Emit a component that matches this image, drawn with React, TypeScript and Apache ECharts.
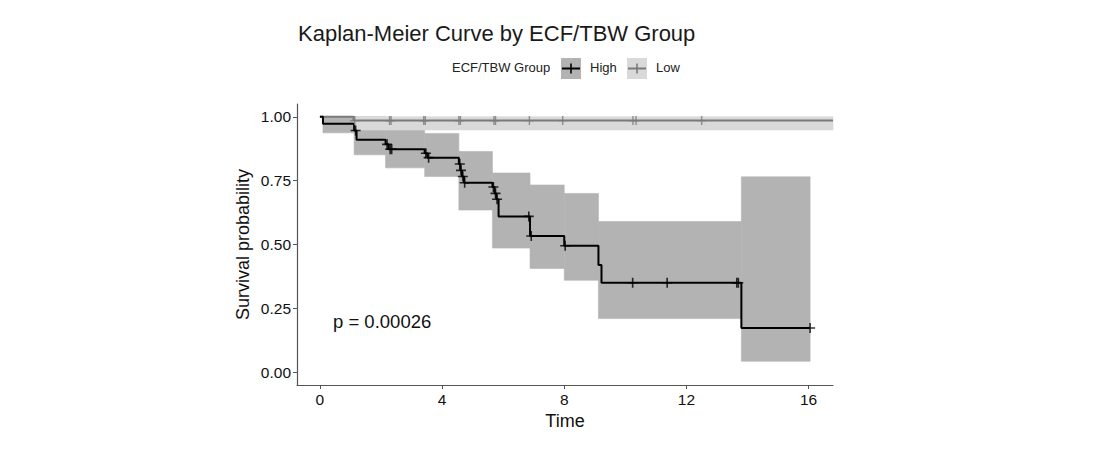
import React, { useEffect, useRef } from "react";
import * as echarts from "echarts";

// ---- Data ----
const highTimes = [0, 0.1, 1.12, 1.2, 2.15, 2.25, 3.43, 3.52, 4.55, 4.6, 4.65, 4.72, 5.65, 5.72, 5.78, 5.85, 6.88, 8.0, 9.12, 9.22, 13.8, 16.05];
const highSurv = [1, 0.973, 0.946, 0.91, 0.892, 0.873, 0.857, 0.84, 0.815, 0.79, 0.766, 0.742, 0.725, 0.7, 0.677, 0.61, 0.533, 0.495, 0.42, 0.35, 0.173, 0.173];

const highCensorTimes = [1.17, 2.2, 2.3, 2.35, 3.47, 3.56, 4.58, 4.62, 4.68, 4.74, 5.68, 5.75, 5.8, 6.84, 6.92, 8.03, 10.24, 11.37, 13.65, 13.7, 16.05];
const highCensorSurv = [0.946, 0.892, 0.873, 0.873, 0.857, 0.84, 0.815, 0.79, 0.766, 0.742, 0.725, 0.7, 0.677, 0.61, 0.533, 0.495, 0.35, 0.35, 0.35, 0.35, 0.173];

const highBandStart = [0.1, 1.12, 2.15, 3.43, 4.55, 5.65, 6.88, 8.0, 9.12, 13.8];
const highBandEnd = [1.12, 2.15, 3.43, 4.55, 5.65, 6.88, 8.0, 9.12, 13.8, 16.05];
const highBandLower = [0.937, 0.851, 0.8, 0.766, 0.635, 0.486, 0.406, 0.36, 0.21, 0.043];
const highBandUpper = [1.0, 1.0, 0.96, 0.935, 0.864, 0.78, 0.733, 0.7, 0.59, 0.765];

const lowTimes = [0, 1.1, 16.8];
const lowSurv = [1, 0.985, 0.985];
const lowCensorTimes = [1.14, 2.28, 2.33, 3.4, 3.45, 4.55, 4.6, 5.7, 5.75, 6.86, 7.95, 10.25, 10.35, 12.5];
const lowCensorSurv = [0.985, 0.985, 0.985, 0.985, 0.985, 0.985, 0.985, 0.985, 0.985, 0.985, 0.985, 0.985, 0.985, 0.985];
const lowBandStart = [1.1];
const lowBandEnd = [16.8];
const lowBandLower = [0.948];
const lowBandUpper = [1.0];

const xTicks = [0, 4, 8, 12, 16];
const yTicks = [0, 0.25, 0.5, 0.75, 1];

const FONT = "Liberation Sans, Arial, sans-serif";
const PLUS = "path://M4.2,0H5.8V10H4.2Z M0,4.2H10V5.8H0Z";

function bandSeries(start: number[], end: number[], lo: number[], hi: number[], color: string, z: number) {
  return {
    type: "custom",
    silent: true,
    z,
    data: start.map((s, i) => [s, end[i], lo[i], hi[i]]),
    encode: { x: [0, 1], y: [2, 3] },
    renderItem: (params: any, api: any) => {
      const p0 = api.coord([api.value(0), api.value(3)]);
      const p1 = api.coord([api.value(1), api.value(2)]);
      return {
        type: "rect",
        shape: { x: p0[0], y: p0[1], width: p1[0] - p0[0], height: p1[1] - p0[1] },
        style: { fill: color, stroke: color, lineWidth: 0.6 },
      };
    },
  };
}

export default function App() {
  const ref = useRef<HTMLDivElement>(null);
  useEffect(() => {
    if (!ref.current) return;
    const chart = echarts.init(ref.current, undefined, { renderer: "svg" });
    const axisColor = "#555";
    chart.setOption({
      animation: false,
      backgroundColor: "#fff",
      title: {
        text: "Kaplan-Meier Curve by ECF/TBW Group",
        left: 293,
        top: 17,
        textStyle: { fontSize: 22, fontWeight: "normal", color: "#1a1a1a", fontFamily: FONT },
      },
      grid: { left: 297, right: 271, top: 104, bottom: 67 },
      xAxis: {
        type: "value",
        min: -0.75,
        max: 16.8,
        axisLine: { show: true, onZero: false, lineStyle: { color: axisColor, width: 1.2 } },
        axisTick: { show: true, length: 4, customValues: xTicks, lineStyle: { color: axisColor } },
        axisLabel: { customValues: xTicks, fontSize: 15.5, color: "#111", margin: 6, fontFamily: FONT },
        splitLine: { show: false },
        name: "Time",
        nameLocation: "middle",
        nameGap: 27,
        nameTextStyle: { fontSize: 18, color: "#111", fontFamily: FONT },
      },
      yAxis: {
        type: "value",
        min: -0.05,
        max: 1.05,
        axisLine: { show: true, onZero: false, lineStyle: { color: axisColor, width: 1.2 } },
        axisTick: { show: true, length: 4, customValues: yTicks, lineStyle: { color: axisColor } },
        axisLabel: {
          customValues: yTicks,
          fontSize: 15.5,
          color: "#111",
          margin: 6,
          fontFamily: FONT,
          formatter: (v: number) => v.toFixed(2),
        },
        splitLine: { show: false },
        name: "Survival probability",
        nameLocation: "middle",
        nameGap: 45,
        nameRotate: 90,
        nameTextStyle: { fontSize: 18, color: "#111", fontFamily: FONT },
      },
      graphic: [
        { type: "text", left: 452, top: 61, style: { text: "ECF/TBW Group", fontSize: 13, fill: "#222", fontFamily: FONT } },
        { type: "rect", shape: { x: 561, y: 58, width: 20, height: 21 }, style: { fill: "#b3b3b3" } },
        { type: "line", shape: { x1: 562, y1: 68.5, x2: 580, y2: 68.5 }, style: { stroke: "#000", lineWidth: 2 } },
        { type: "line", shape: { x1: 571, y1: 63.5, x2: 571, y2: 73.5 }, style: { stroke: "#000", lineWidth: 1.6 } },
        { type: "text", left: 590, top: 61, style: { text: "High", fontSize: 13, fill: "#222", fontFamily: FONT } },
        { type: "rect", shape: { x: 627, y: 58, width: 20, height: 21 }, style: { fill: "#d9d9d9" } },
        { type: "line", shape: { x1: 628, y1: 68.5, x2: 646, y2: 68.5 }, style: { stroke: "#7a7a7a", lineWidth: 2 } },
        { type: "line", shape: { x1: 637, y1: 63.5, x2: 637, y2: 73.5 }, style: { stroke: "#7a7a7a", lineWidth: 1.6 } },
        { type: "text", left: 656, top: 61, style: { text: "Low", fontSize: 13, fill: "#222", fontFamily: FONT } },
        { type: "text", left: 333, top: 312, style: { text: "p = 0.00026", fontSize: 18.5, fill: "#111", fontFamily: FONT } },
      ],
      series: [
        bandSeries(highBandStart, highBandEnd, highBandLower, highBandUpper, "#b3b3b3", 1),
        bandSeries(lowBandStart, lowBandEnd, lowBandLower, lowBandUpper, "#d9d9d9", 2),
        {
          type: "line",
          step: "end",
          z: 3,
          symbol: "none",
          silent: true,
          data: lowTimes.map((t, i) => [t, lowSurv[i]]),
          lineStyle: { color: "#7a7a7a", width: 2 },
        },
        {
          type: "line",
          step: "end",
          z: 4,
          symbol: "none",
          silent: true,
          data: highTimes.map((t, i) => [t, highSurv[i]]),
          lineStyle: { color: "#000", width: 2 },
        },
        {
          type: "scatter",
          z: 5,
          silent: true,
          symbol: PLUS,
          symbolSize: 9,
          data: lowCensorTimes.map((t, i) => [t, lowCensorSurv[i]]),
          itemStyle: { color: "#7a7a7a" },
        },
        {
          type: "scatter",
          z: 6,
          silent: true,
          symbol: PLUS,
          symbolSize: 10,
          data: highCensorTimes.map((t, i) => [t, highCensorSurv[i]]),
          itemStyle: { color: "#000" },
        },
      ],
    });
    return () => chart.dispose();
  }, []);
  return (
    <div
      ref={ref}
      style={{ position: "fixed", left: 0, top: 0, width: 1104, height: 452, background: "#fff" }}
    />
  );
}
